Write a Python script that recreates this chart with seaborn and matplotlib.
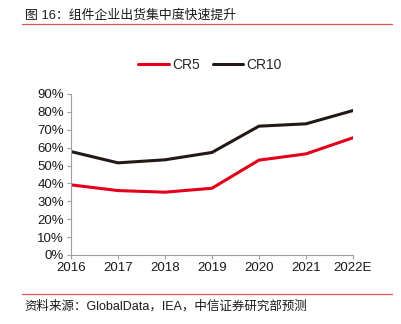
import matplotlib
matplotlib.use("Agg")
import matplotlib.pyplot as plt
import seaborn as sns
import pandas as pd
from matplotlib.lines import Line2D
from matplotlib.ticker import PercentFormatter

sns.set_theme(style="white")
plt.rcParams['font.family'] = ['Liberation Sans', 'Noto Sans CJK SC', 'DejaVu Sans']

years = ["2016", "2017", "2018", "2019", "2020", "2021", "2022E"]
cr5 = [39.2, 36.0, 35.1, 37.3, 53.0, 56.5, 65.5]
cr10 = [57.8, 51.5, 53.2, 57.3, 72.0, 73.3, 80.7]

df = pd.DataFrame({
    "year": list(range(len(years))) * 2,
    "value": cr5 + cr10,
    "series": ["CR5"] * len(years) + ["CR10"] * len(years),
})
palette = {"CR5": "#e3001b", "CR10": "#231815"}

fig = plt.figure(figsize=(4.01, 3.24), dpi=100)
ax = fig.add_axes([0.177, 0.213, 0.703, 0.497])
sns.lineplot(data=df, x="year", y="value", hue="series", palette=palette,
             linewidth=2.2, ax=ax, legend=False)

ax.set_xlim(0, len(years) - 1)
ax.set_ylim(0, 90)
ax.set_yticks(range(0, 91, 10))
ax.yaxis.set_major_formatter(PercentFormatter(decimals=0))
ax.set_xticks(range(len(years)))
ax.set_xticklabels(years)
ax.set_xlabel("")
ax.set_ylabel("")
for s in ["top", "right"]:
    ax.spines[s].set_visible(False)
for s in ["left", "bottom"]:
    ax.spines[s].set_color("#a0a0a0")
    ax.spines[s].set_linewidth(0.8)
ax.tick_params(axis="both", which="major", labelsize=9.5, colors="#a0a0a0",
               labelcolor="#1a1a1a", direction="out", length=3, width=0.8,
               left=True, bottom=True, pad=2)

handles = [Line2D([], [], color=palette[k], linewidth=2.2) for k in ["CR5", "CR10"]]
fig.legend(handles, ["CR5", "CR10"], loc="center", bbox_to_anchor=(0.524, 0.80),
           ncol=2, frameon=False, fontsize=10, handlelength=2.2,
           columnspacing=0.9, handletextpad=0.25)

fig.text(0.062, 0.952, "图 16：组件企业出货集中度快速提升", fontsize=9.3,
         family=['Liberation Sans', 'Noto Sans CJK SC', 'DejaVu Sans'],
         va="center", ha="left", color="#1a1a1a")
fig.add_artist(Line2D([0.055, 0.978], [0.925, 0.925], color="#d9534f", linewidth=0.9))
fig.add_artist(Line2D([0.055, 0.978], [0.093, 0.093], color="#d9534f", linewidth=0.9))
fig.text(0.062, 0.055, "资料来源：GlobalData，IEA，中信证券研究部预测", fontsize=9,
         family=['Liberation Sans', 'Noto Sans CJK SC', 'DejaVu Sans'],
         va="center", ha="left", color="#1a1a1a")

fig.savefig("out.png", dpi=100)
